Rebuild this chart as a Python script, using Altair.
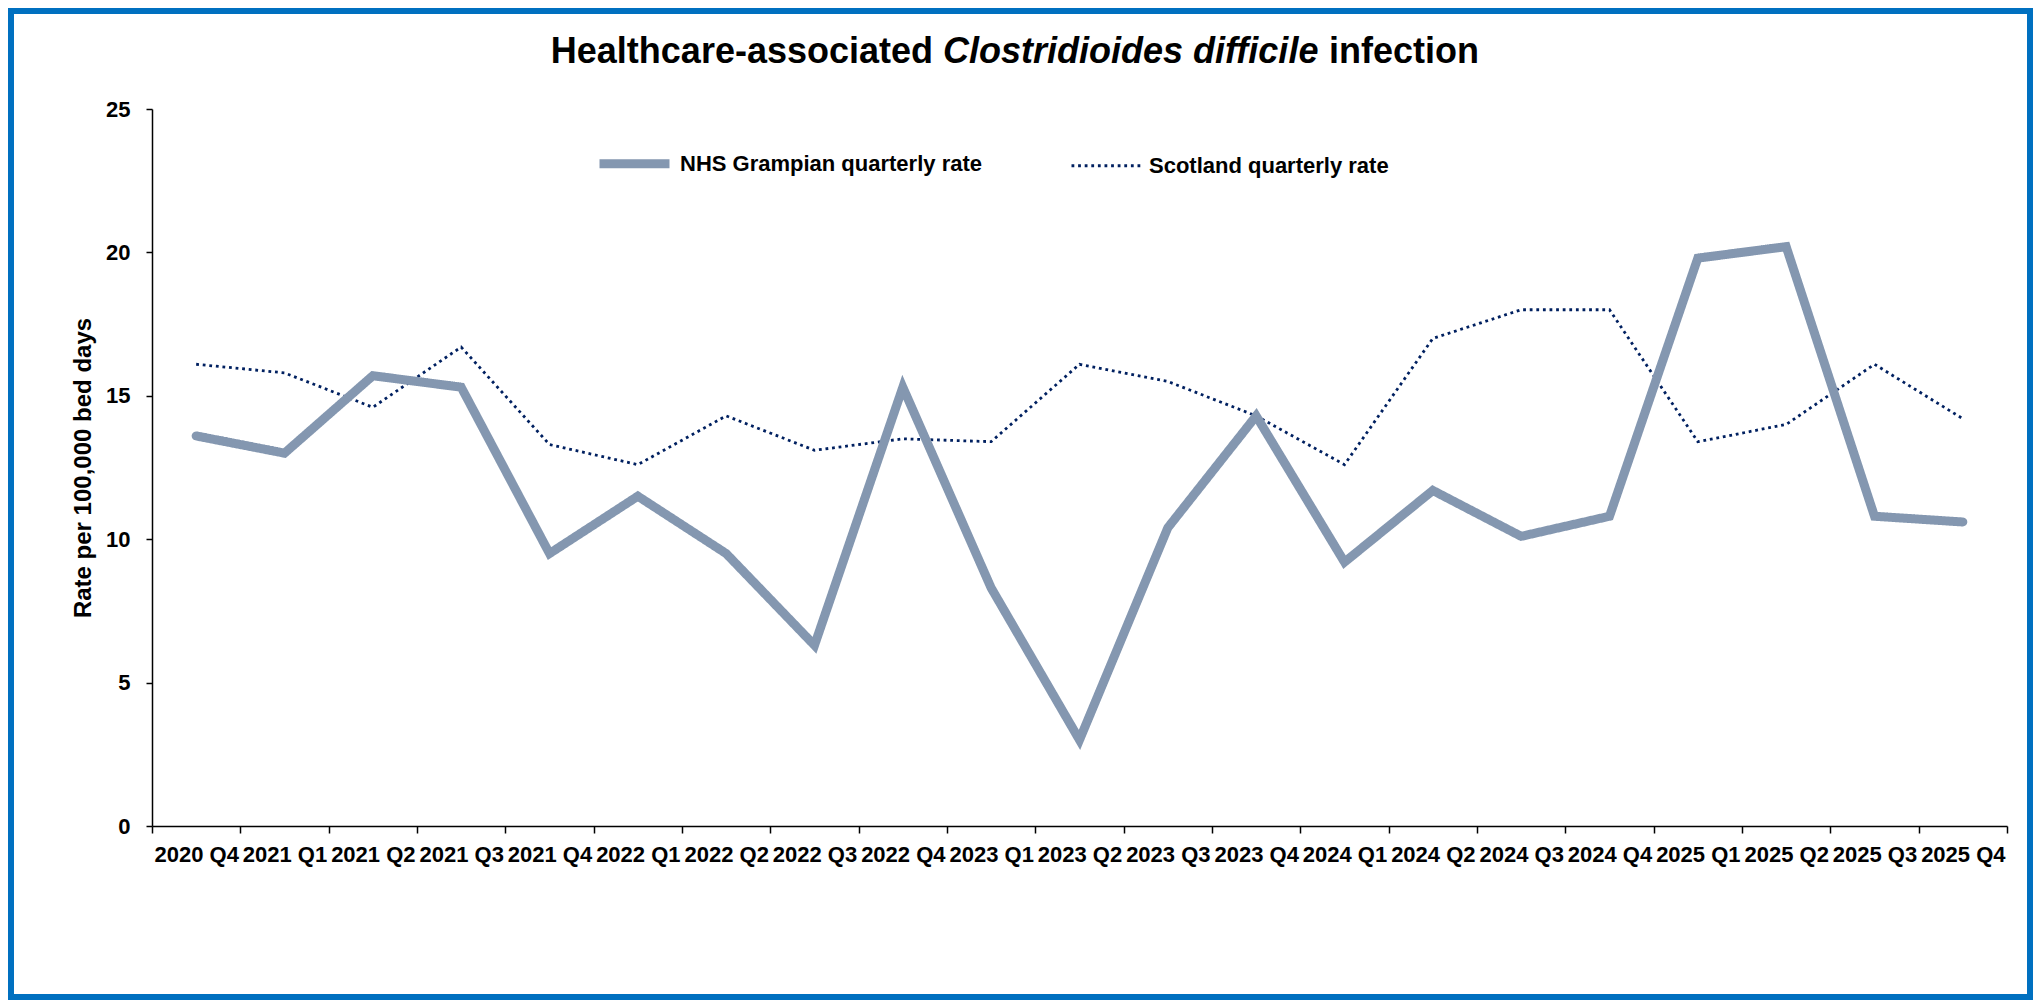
import altair as alt
import pandas as pd

quarters = [
    "2020 Q4", "2021 Q1", "2021 Q2", "2021 Q3", "2021 Q4",
    "2022 Q1", "2022 Q2", "2022 Q3", "2022 Q4",
    "2023 Q1", "2023 Q2", "2023 Q3", "2023 Q4",
    "2024 Q1", "2024 Q2", "2024 Q3", "2024 Q4",
    "2025 Q1", "2025 Q2", "2025 Q3", "2025 Q4",
]
nhs_grampian = [13.6, 13.0, 15.7, 15.3, 9.5, 11.5, 9.5, 6.3, 15.3, 8.3, 3.0,
                10.4, 14.3, 9.2, 11.7, 10.1, 10.8, 19.8, 20.2, 10.8, 10.6]
scotland = [16.1, 15.8, 14.6, 16.7, 13.3, 12.6, 14.3, 13.1, 13.5, 13.4, 16.1,
            15.5, 14.3, 12.6, 17.0, 18.0, 18.0, 13.4, 14.0, 16.1, 14.2]
series_names = ["NHS Grampian quarterly rate", "Scotland quarterly rate"]
title_parts = ["Healthcare-associated", "Clostridioides difficile", "infection"]
y_title = "Rate per 100,000 bed days"
y_ticks = [0, 5, 10, 15, 20, 25]

rows = []
for q, v in zip(quarters, nhs_grampian):
    rows.append({"quarter": q, "series": series_names[0], "value": v})
for q, v in zip(quarters, scotland):
    rows.append({"quarter": q, "series": series_names[1], "value": v})
df = pd.DataFrame(rows)

W, H = 1855, 717
PAD = {"left": 144, "top": 101, "right": 28, "bottom": 174}
FONT = "Liberation Sans"
NHS_COLOR = "#8497B0"
SCOT_COLOR = "#002060"
BORDER = "#0070C0"

legend = alt.Legend(
    title=None, orient="none", legendX=443, legendY=15, direction="horizontal",
    symbolType="stroke", symbolSize=4900, labelFont=FONT, labelFontSize=22,
    labelFontWeight="bold", labelColor="black", labelOffset=6, columnPadding=83,
    labelLimit=0,
)

x_enc = alt.X(
    "quarter:O",
    scale=alt.Scale(type="band", domain=quarters, paddingInner=0, paddingOuter=0),
    bandPosition=0.5,
    title=None,
    axis=alt.Axis(
        labelAngle=0, labelFont=FONT, labelFontSize=22, labelFontWeight="bold",
        labelColor="black", labelPadding=11, tickSize=7, tickWidth=1.5,
        tickColor="black", domainColor="black", domainWidth=1.5,
        tickBand="extent", labelOverlap=False, grid=False,
    ),
)
y_enc = alt.Y(
    "value:Q",
    scale=alt.Scale(domain=[0, 25], nice=False),
    axis=alt.Axis(
        values=y_ticks, title=y_title, titleFont=FONT, titleFontSize=24,
        titleFontWeight="bold", titleColor="black", titleAngle=270,
        titleX=-62, titleY=H / 2, titleAlign="center", titleBaseline="alphabetic",
        labelFont=FONT, labelFontSize=22, labelFontWeight="bold",
        labelColor="black", labelPadding=16, tickSize=6, tickWidth=1.5,
        tickColor="black", domainColor="black", domainWidth=1.5, grid=False,
    ),
)
color_enc = alt.Color("series:N", scale=alt.Scale(domain=series_names,
                      range=[NHS_COLOR, SCOT_COLOR]), legend=legend)
dash_enc = alt.StrokeDash("series:N", scale=alt.Scale(domain=series_names,
                          range=[[1, 0], [2.8, 3.8]]), legend=legend)
width_enc = alt.StrokeWidth("series:N", scale=alt.Scale(domain=series_names,
                            range=[9, 2.8]), legend=legend)

base = alt.Chart(df).encode(x=x_enc, y=y_enc, color=color_enc,
                            strokeDash=dash_enc, strokeWidth=width_enc)
nhs_line = base.transform_filter(
    alt.datum.series == series_names[0]
).mark_line(strokeCap="round", strokeJoin="miter")
scot_line = base.transform_filter(
    alt.datum.series == series_names[1]
).mark_line(strokeCap="butt")

# Title pieces (mixed upright / italic)
title_y = -46
TS = 36
t1 = alt.Chart(alt.Data(values=[{"t": title_parts[0]}])).mark_text(
    align="right", baseline="alphabetic", font=FONT, fontSize=TS,
    fontWeight="bold", color="black"
).encode(text="t:N", x=alt.value(781), y=alt.value(title_y))
t2 = alt.Chart(alt.Data(values=[{"t": title_parts[1]}])).mark_text(
    align="left", baseline="alphabetic", font=FONT, fontSize=TS,
    fontWeight="bold", fontStyle="italic", color="black"
).encode(text="t:N", x=alt.value(791), y=alt.value(title_y))
t3 = alt.Chart(alt.Data(values=[{"t": title_parts[2]}])).mark_text(
    align="left", baseline="alphabetic", font=FONT, fontSize=TS,
    fontWeight="bold", color="black"
).encode(text="t:N", x=alt.value(1177), y=alt.value(title_y))

border = alt.Chart(alt.Data(values=[{}])).mark_rect(
    fillOpacity=0, stroke=BORDER, strokeWidth=6
).encode(x=alt.value(-141), x2=alt.value(1878), y=alt.value(-98), y2=alt.value(888))

chart = alt.layer(border, scot_line, nhs_line, t1, t2, t3).properties(
    width=W, height=H, padding=PAD, autosize=alt.AutoSizeParams(type="none"),
    background="white",
).configure_view(stroke=None)

chart.save("out.html", embed_options={"renderer": "svg", "actions": False})
